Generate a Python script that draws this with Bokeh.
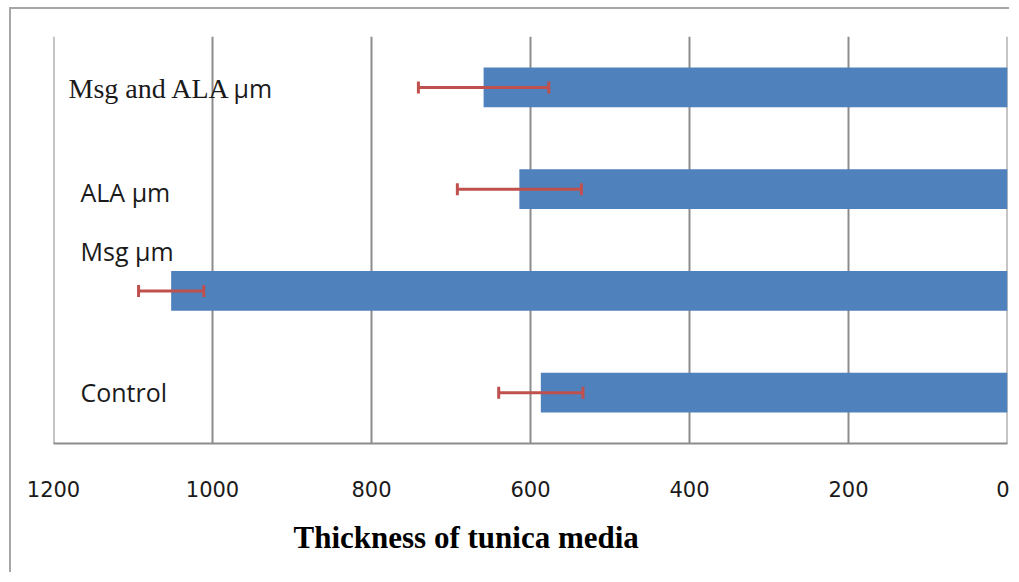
from bokeh.plotting import figure
from bokeh.models import (Range1d, FactorRange, FixedTicker, Whisker, Span,
                          TeeHead, ColumnDataSource, Title)
from bokeh.core.properties import value
from bokeh.embed import file_html
from bokeh.resources import INLINE

# ---- data ----
categories = ["Control", "Msg µm", "ALA µm", "Msg and ALA µm"]
thickness = [587, 1052, 614, 659]
sd = [53, 41, 78, 82]
x_ticks = [0, 200, 400, 600, 800, 1000, 1200]
title_text = "Thickness of tunica media"

# label texts drawn inside the plot
label_main = ["Control", "Msg µm", "ALA µm", "Msg and ALA"]
label_suffix = "µm"

# ---- layout/style ----
label_dx = [27, 27, 27, 15]
label_dy = [-1, -40, 3, 1]
label_font = ["Open Sans", "Open Sans", "Open Sans", "Liberation Serif"]
label_size = ["25px", "25px", "25px", "28px"]

src = ColumnDataSource(dict(cat=categories, val=thickness,
                            lo=[v - s for v, s in zip(thickness, sd)],
                            hi=[v + s for v, s in zip(thickness, sd)]))

p = figure(width=1000, height=565, output_backend="svg", toolbar_location=None,
           x_range=Range1d(1200, 0), y_range=FactorRange(*categories),
           y_axis_location=None,
           min_border_left=42, min_border_right=4, min_border_top=27,
           min_border_bottom=131)
p.styles = {"border-left": "2px solid #a6a6a6", "border-top": "2px solid #a6a6a6",
            "margin-left": "9px", "margin-top": "7px"}
p.outline_line_color = None
p.background_fill_color = "white"
p.border_fill_color = "white"

p.hbar(y="cat", left=0, right="val", height=0.39, source=src,
       fill_color="#4f81bd", line_color=None)

w = Whisker(base="cat", lower="lo", upper="hi", dimension="width", source=src,
            line_color="#c0504d", line_width=3, level="annotation",
            lower_head=TeeHead(size=12, line_color="#c0504d", line_width=3),
            upper_head=TeeHead(size=12, line_color="#c0504d", line_width=3))
p.add_layout(w)

# x axis
xa = p.xaxis[0]
xa.ticker = FixedTicker(ticks=x_ticks)
xa.major_tick_line_color = None
xa.minor_tick_line_color = None
xa.axis_line_color = "#8c8c8c"
xa.axis_line_width = 2
xa.major_label_standoff = 31
xa.major_label_text_font = "DejaVu Sans"
xa.major_label_text_font_size = "21px"
xa.major_label_text_color = "#1a1a1a"

p.xgrid.ticker = FixedTicker(ticks=x_ticks)
p.xgrid.grid_line_color = "#8c8c8c"
p.xgrid.grid_line_width = 2
p.ygrid.grid_line_color = None

for loc in (x_ticks[0], x_ticks[-1]):
    p.add_layout(Span(location=loc, dimension="height", line_color="#8c8c8c",
                      line_width=2, level="underlay"))

# category labels
for i, c in enumerate(categories):
    p.text(x=[x_ticks[-1]], y=[c], text=[label_main[i]], x_offset=label_dx[i],
           y_offset=label_dy[i], text_baseline="alphabetic", text_align="left",
           text_font=value(label_font[i]), text_font_size=label_size[i],
           text_color="#1a1a1a")
p.text(x=[x_ticks[-1]], y=[categories[3]], text=[label_suffix], x_offset=180,
       y_offset=label_dy[3], text_baseline="alphabetic", text_align="left",
       text_font=value("Open Sans"), text_font_size="25px", text_color="#1a1a1a")

p.add_layout(Title(text=title_text, align="left", offset=240, standoff=37,
                   text_font="Liberation Serif", text_font_style="bold",
                   text_font_size="31px", text_color="black"), "below")

open("out.html", "w").write(file_html(p, INLINE))
